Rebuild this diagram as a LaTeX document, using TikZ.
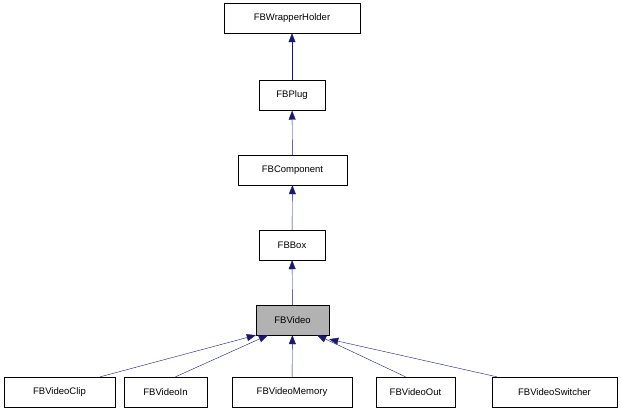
\documentclass[tikz,border=0pt]{standalone}
\usepackage{fontspec}
\setmainfont{Liberation Sans}
\usetikzlibrary{arrows.meta}
\begin{document}
\begin{tikzpicture}[x=1pt,y=-1pt,
  box/.style={draw=black,fill=white,minimum height=30pt,inner xsep=4pt,font=\fontsize{9.5}{11}\selectfont},
  inh/.style={draw=navy,-{Triangle[length=9pt,width=7pt,fill=navy]}},
]
\definecolor{navy}{RGB}{25,25,112}
\useasboundingbox (0,0) rectangle (621,411);
\node[box,minimum width=136pt] (wh) at (292,18) {FBWrapperHolder};
\node[box,minimum width=66pt] (pl) at (292,95.5) {FBPlug};
\node[box,minimum width=109pt] (co) at (292.5,170) {FBComponent};
\node[box,minimum width=66pt] (bo) at (292,245) {FBBox};
\node[box,minimum width=73pt,fill=black!30] (vi) at (292.5,320) {FBVideo};
\node[box,minimum width=111pt] (cl) at (59.5,392) {FBVideoClip};
\node[box,minimum width=83pt] (in) at (165.5,392) {FBVideoIn};
\node[box,minimum width=120pt] (me) at (292,392) {FBVideoMemory};
\node[box,minimum width=79pt] (ou) at (415.5,392) {FBVideoOut};
\node[box,minimum width=125pt] (sw) at (554.5,392) {FBVideoSwitcher};
\draw[inh] (pl) -- (wh);
\draw[inh] (co) -- (pl);
\draw[inh] (bo) -- (co);
\draw[inh] (vi) -- (bo);
\draw[inh] (cl.north east) ++(-15,0) -- (vi.south west);
\draw[inh] (in.north) ++(10,0) -- ([xshift=12pt]vi.south west);
\draw[inh] (me) -- (vi);
\draw[inh] (ou.north) ++(-10,0) -- ([xshift=-12pt]vi.south east);
\draw[inh] (sw.north west) ++(5,0) -- ([yshift=-4pt]vi.south east);
\end{tikzpicture}
\end{document}
